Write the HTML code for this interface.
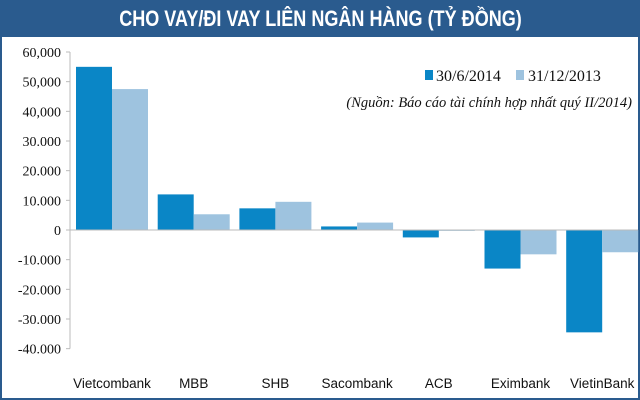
<!DOCTYPE html>
<html><head><meta charset="utf-8"><style>
body{margin:0;width:640px;height:400px;overflow:hidden;background:#fff;font-family:"Liberation Sans",sans-serif}
#frame{position:absolute;left:0;top:0;width:636px;height:396px;border:2px solid #2a5b8e;}
#title{position:absolute;left:0;top:0;width:640px;height:37px;background:#2a5b8e;color:#fff;font:bold 22px "Liberation Sans Narrow","Liberation Sans",sans-serif;text-align:center;line-height:37px;}
</style></head><body>
<div id="frame"></div>
<div id="title"><span style="display:inline-block;transform:scaleX(0.82)">CHO VAY/ĐI VAY LIÊN NGÂN HÀNG (TỶ ĐỒNG)</span></div>
<svg id="chart" width="640" height="400" style="position:absolute;left:0;top:0"></svg>
<script>
const categories=["Vietcombank","MBB","SHB","Sacombank","ACB","Eximbank","VietinBank"];
const series2014=[55000,12000,7300,1200,-2500,-13000,-34500];
const series2013=[47500,5300,9500,2500,-300,-8200,-7500];
const tickValues=[60000,50000,40000,30000,20000,10000,0,-10000,-20000,-30000,-40000];
const tickLabels=["60,000","50,000","40,000","30.000","20.000","10.000","0","-10.000","-20.000","-30.000","-40.000"];
const svg=document.getElementById('chart');
const NS="http://www.w3.org/2000/svg";
function y(v){return 230-v*178/60000;}
function xc(i){return 112+i*81.7;}
function mk(t,a){const e=document.createElementNS(NS,t);for(const k in a)e.setAttribute(k,a[k]);svg.appendChild(e);return e;}
let ax=mk('line',{x1:70,y1:y(60000),x2:70,y2:y(-40000),stroke:'#bbb','stroke-width':1});


tickValues.forEach((v,i)=>{
 let tk=mk('line',{x1:66,x2:70,y1:y(v),y2:y(v),stroke:'#bbb'});
 
 
 let t=mk('text',{x:61,y:y(v)+5,'text-anchor':'end','font-size':'14','font-family':'Liberation Serif, serif',fill:'#111'});
 t.textContent=tickLabels[i];
 
 
});
categories.forEach((c,i)=>{
 const a=series2014[i],b=series2013[i];
 let r1=mk('rect',{x:xc(i)-36,y:Math.min(y(a),y(0)),width:36,height:Math.abs(y(a)-y(0)),fill:'#0a86c6'});
 
 
 let r2=mk('rect',{x:xc(i),y:Math.min(y(b),y(0)),width:36,height:Math.abs(y(b)-y(0)),fill:'#9ec3df'});
 
 
 let t=mk('text',{x:xc(i),y:388,'text-anchor':'middle','font-size':'13.5',fill:'#111'});
 t.textContent=c;
 
 
});
let zl=mk('line',{x1:70,x2:638,y1:y(0),y2:y(0),stroke:'#bbb'});


let l1=mk('rect',{x:425,y:70,width:8,height:10,fill:'#0a86c6'});


let lt1=mk('text',{x:436,y:81,'font-size':'16','font-family':'Liberation Serif, serif',fill:'#111'});
lt1.textContent='30/6/2014';


let l2=mk('rect',{x:516,y:70,width:8,height:10,fill:'#9ec3df'});


let lt2=mk('text',{x:528,y:81,'font-size':'16','font-family':'Liberation Serif, serif',fill:'#111'});
lt2.textContent='31/12/2013';


let src=mk('text',{x:632,y:107,'text-anchor':'end','font-size':'14.5','font-style':'italic','font-family':'Liberation Serif, serif',fill:'#111'});
src.textContent='(Nguồn: Báo cáo tài chính hợp nhất quý II/2014)';


</script>
</body></html>
